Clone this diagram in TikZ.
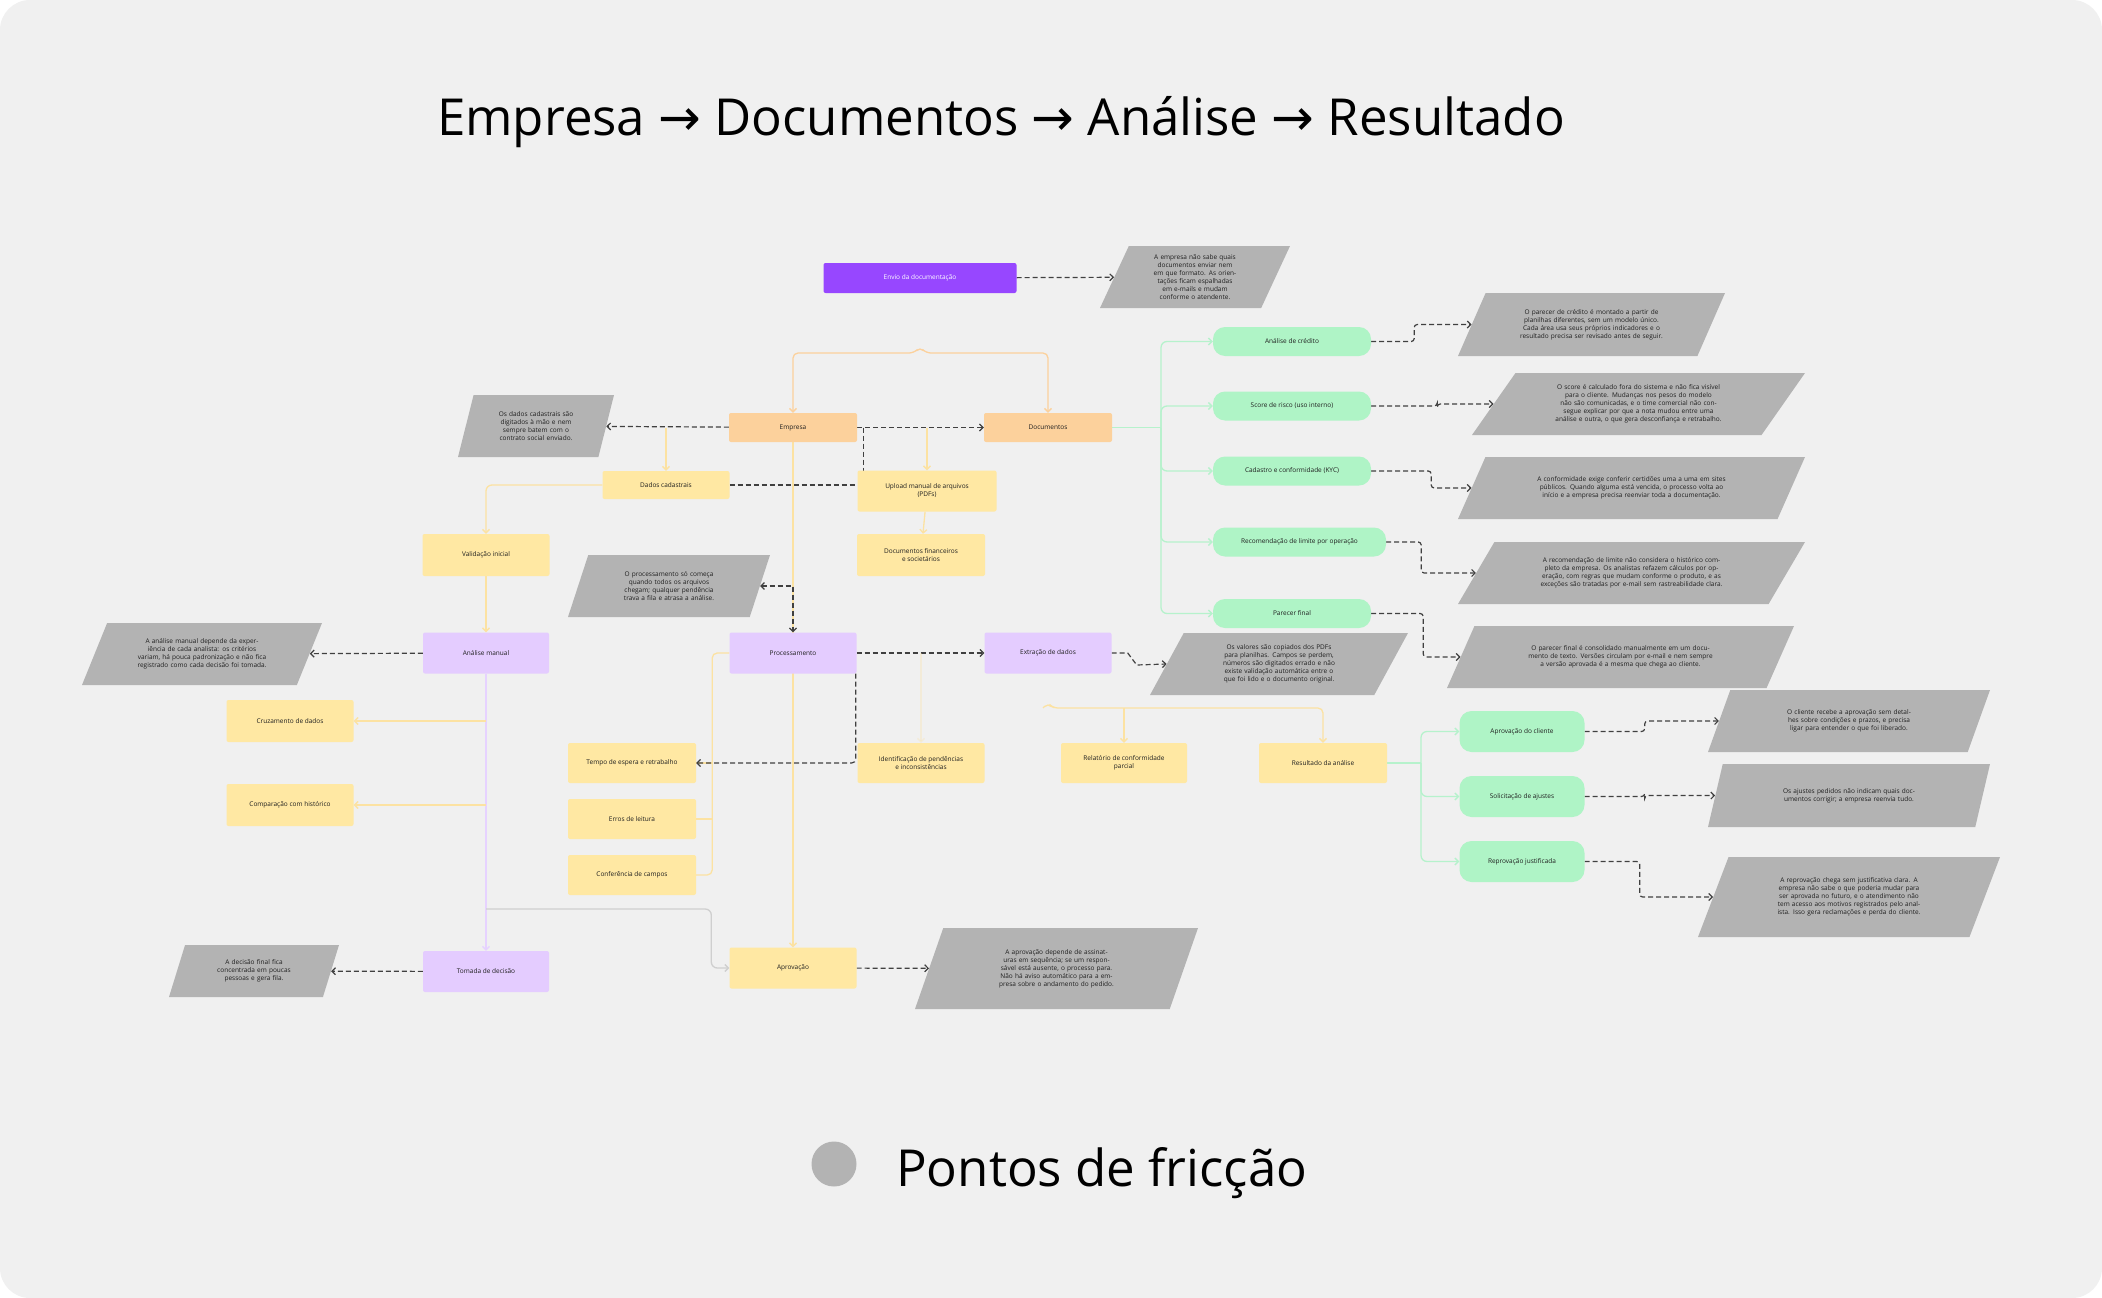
\documentclass[tikz,border=0pt]{standalone}
\usepackage{fontspec}
\setmainfont{Open Sans}
\newfontfamily\arrowfont{DejaVu Sans}
\usetikzlibrary{shapes.geometric,arrows.meta}

\definecolor{paper}{HTML}{F0F0F0}
\definecolor{violet}{HTML}{9747FF}
\definecolor{lilac}{HTML}{E4CCFF}
\definecolor{peach}{HTML}{FCD19C}
\definecolor{sand}{HTML}{FFE8A3}
\definecolor{mint}{HTML}{AFF4C6}
\definecolor{friction}{HTML}{B3B3B3}
\definecolor{ink}{HTML}{1E1E1E}
\definecolor{sandline}{HTML}{FCE2A2}
\definecolor{mintline}{HTML}{B6F2CC}
\definecolor{lilacline}{HTML}{E6D2FF}
\definecolor{greyline}{HTML}{CFCFCF}

\pgfdeclarelayer{back}
\pgfdeclarelayer{wires}
\pgfsetlayers{back,wires,main}

\begin{document}
\begin{tikzpicture}[x=1pt, y=-1pt,
    >={Straight Barb[length=3.5pt,width=7pt]},
    every node/.style={font=\fontsize{6.5}{8}\selectfont, text=ink, align=center, inner sep=1pt},
    card/.style n args={3}{rectangle, rounded corners=2pt, fill=#1, minimum width=#2, minimum height=#3},
    pill/.style={rectangle, rounded corners=12pt, fill=mint, minimum width=#1, minimum height=29},
    fric/.style n args={4}{trapezium, trapezium left angle=#3, trapezium right angle={180-#3},
        trapezium stretches body=true, fill=friction, minimum width=#1, minimum height=#2, text width=#4},
    frline/.style={draw=ink!85, line width=1.2pt, dash pattern=on 5pt off 3pt},
    wire/.style={draw=#1, line width=1.3pt}]

    \useasboundingbox (0,0) rectangle (2102,1298);
    \begin{pgfonlayer}{back}
        \fill[white] (0,0) rectangle (2102,1298);
        \fill[paper, rounded corners=30pt] (0,0) rectangle (2102,1298);
    \end{pgfonlayer}

    % Title
    \node[font=\fontsize{51}{60}\selectfont, text=black, anchor=base west, inner sep=0] (title) at (437,135)
        {Empresa {\arrowfont →} Documentos {\arrowfont →} Análise {\arrowfont →} Resultado};

    % Start
    \node[card={violet}{193}{30}, text=white] (envio) at (920,278) {Envio da documentação};
    \node[fric={190}{62}{58.5}{96}] (envio-f) at (1195,277)
        {A empresa não sabe quais documentos enviar nem em que formato. As orientações ficam espalhadas em e-mails e mudam conforme o atendente.};

    % Company and documents
    \coordinate (brT) at (920,353);
    \node[card={peach}{128}{29}] (empresa) at (793,427.5) {Empresa};
    \node[card={peach}{128}{29}] (docs) at (1048,427.5) {Documentos};
    \node[fric={156}{62}{63.3}{78}] (empresa-f) at (536,426)
        {Os dados cadastrais são digitados à mão e nem sempre batem com o contrato social enviado.};
    \node[card={sand}{127}{28}] (cadastro) at (666,485) {Dados cadastrais};
    \node[card={sand}{139}{41}] (upload) at (927,491) {Upload manual de arquivos\\(PDFs)};
    \node[card={sand}{128}{42}] (financeiros) at (921,555) {Documentos financeiros\\e societários};
    \node[card={sand}{127}{42}] (validacao) at (486,555) {Validação inicial};

    % Manual analysis
    \node[card={lilac}{126}{41}] (manual) at (486,653) {Análise manual};
    \node[fric={240}{62}{52.3}{130}] (manual-f) at (202,654)
        {A análise manual depende da experiência de cada analista: os critérios variam, há pouca padronização e não fica registrado como cada decisão foi tomada.};
    \node[card={sand}{127}{42}] (cruzamento) at (290,721) {Cruzamento de dados};
    \node[card={sand}{127}{42}] (historico) at (290,805) {Comparação com histórico};
    \coordinate (desvio) at (486,909);

    % Processing
    \node[card={lilac}{127}{41}] (proc) at (793,653) {Processamento};
    \node[fric={202}{62}{56.9}{105}] (proc-f) at (669,586)
        {O processamento só começa quando todos os arquivos chegam; qualquer pendência trava a fila e atrasa a análise.};
    \node[card={sand}{128}{40}] (espera) at (632,763) {Tempo de espera e retrabalho};
    \node[card={sand}{128}{40}] (leitura) at (632,819) {Erros de leitura};
    \node[card={sand}{128}{40}] (conferencia) at (632,875) {Conferência de campos};
    \node[card={sand}{127}{40}] (pendencias) at (921,763) {Identificação de pendências\\e inconsistências};

    % Extraction
    \node[card={lilac}{127}{41}] (extracao) at (1048,653) {Extração de dados};
    \node[fric={258}{62}{50.2}{140}] (extracao-f) at (1279,664)
        {Os valores são copiados dos PDFs para planilhas. Campos se perdem, números são digitados errado e não existe validação automática entre o que foi lido e o documento original.};
    \coordinate (brB) at (1048,708);
    \node[card={sand}{126}{40}] (relatorio) at (1124,763) {Relatório de conformidade\\parcial};
    \node[card={sand}{128}{40}] (resultado) at (1323,763) {Resultado da análise};

    % Outputs of the documents
    \coordinate (gHub) at (1161,427.5);
    \node[pill=158] (credito) at (1292,341.5) {Análise de crédito};
    \node[pill=158] (score) at (1292,406) {Score de risco (uso interno)};
    \node[pill=158] (kyc) at (1292,471) {Cadastro e conformidade (KYC)};
    \node[pill=173] (limite) at (1299.5,542) {Recomendação de limite por operação};
    \node[pill=158] (parecer) at (1292,613.5) {Parecer final};
    \node[fric={267}{63}{49.7}{150}] (credito-f) at (1591.5,324.5)
        {O parecer de crédito é montado a partir de planilhas diferentes, sem um modelo único. Cada área usa seus próprios indicadores e o resultado precisa ser revisado antes de seguir.};
    \node[fric={333}{62}{43}{190}] (score-f) at (1638.5,404)
        {O score é calculado fora do sistema e não fica visível para o cliente. Mudanças nos pesos do modelo não são comunicadas, e o time comercial não consegue explicar por que a nota mudou entre uma análise e outra, o que gera desconfiança e retrabalho.};
    \node[fric={347}{62}{41.8}{190}] (kyc-f) at (1631.5,488)
        {A conformidade exige conferir certidões uma a uma em sites públicos. Quando alguma está vencida, o processo volta ao início e a empresa precisa reenviar toda a documentação.};
    \node[fric={347}{62}{41.8}{190}] (limite-f) at (1631.5,573)
        {A recomendação de limite não considera o histórico completo da empresa. Os analistas refazem cálculos por operação, com regras que mudam conforme o produto, e as exceções são tratadas por e-mail sem rastreabilidade clara.};
    \node[fric={347}{62}{41.8}{185}] (parecer-f) at (1620.5,657)
        {O parecer final é consolidado manualmente em um documento de texto. Versões circulam por e-mail e nem sempre a versão aprovada é a mesma que chega ao cliente.};

    % Outputs of the result
    \coordinate (rHub) at (1421,763);
    \node[pill=125, minimum height=41] (aceite) at (1522,731.5) {Aprovação do cliente};
    \node[pill=125, minimum height=41] (ajustes) at (1522,796.5) {Solicitação de ajustes};
    \node[pill=125, minimum height=41] (recusa) at (1522,861.5) {Reprovação justificada};
    \node[fric={282}{62}{47.7}{150}] (aceite-f) at (1849,721)
        {O cliente recebe a aprovação sem detalhes sobre condições e prazos, e precisa ligar para entender o que foi liberado.};
    \node[fric={282}{63}{48.2}{150}] (ajustes-f) at (1849,795.5)
        {Os ajustes pedidos não indicam quais documentos corrigir; a empresa reenvia tudo.};
    \node[fric={302}{80}{53}{160}] (recusa-f) at (1849,897)
        {A reprovação chega sem justificativa clara. A empresa não sabe o que poderia mudar para ser aprovada no futuro, e o atendimento não tem acesso aos motivos registrados pelo analista. Isso gera reclamações e perda do cliente.};

    % Decision
    \node[card={lilac}{126}{41}] (decisao) at (486,971.5) {Tomada de decisão};
    \node[fric={170}{52}{56.8}{80}] (decisao-f) at (254,971)
        {A decisão final fica concentrada em poucas pessoas e gera fila.};
    \node[card={sand}{127}{41}] (aprovacao) at (793,968) {Aprovação};
    \node[fric={283}{81}{55.1}{135}] (aprovacao-f) at (1056.5,968.5)
        {A aprovação depende de assinaturas em sequência; se um responsável está ausente, o processo para. Não há aviso automático para a empresa sobre o andamento do pedido.};

    % Legend
    \node[circle, fill=friction, minimum size=45, inner sep=0] (dot) at (834,1164) {};
    \node[font=\fontsize{51}{60}\selectfont, text=black, anchor=base west, inner sep=0] (legend) at (896,1186) {Pontos de fricção};

    \begin{pgfonlayer}{wires}
        \draw[frline, ->] (envio) -- (envio-f);
        \draw[wire=peach, <->, rounded corners=5pt] (empresa.north) |- ([xshift=-6pt]brT) -- ([yshift=6pt]brT) -- ([xshift=6pt]brT) -| (docs.north);
        \draw[frline, ->] (empresa) -- (empresa-f);
        \draw[frline, ->] (empresa) -- (docs);
        \draw[frline] ([xshift=6pt]empresa.east) -- ([xshift=6pt]empresa.east |- cadastro.east);
        \draw[frline] (cadastro.east) -- (cadastro.east -| upload.west);
        \draw[wire=sandline, ->] (cadastro.north |- empresa.west) -- (cadastro);
        \draw[wire=sandline, ->] (upload.north |- empresa.east) -- (upload);
        \draw[wire=sandline, ->] (upload) -- (financeiros);
        \draw[wire=sandline, ->, rounded corners=6pt] (cadastro.west) -| (validacao.north);
        \draw[wire=sandline, ->] (validacao) -- (manual);

        \draw[frline, ->] (manual) -- (manual-f);
        \draw[wire=lilacline, ->] (manual) -- (decisao);
        \draw[wire=sandline, ->] (manual.south |- cruzamento.east) -- (cruzamento);
        \draw[wire=sandline, ->] (manual.south |- historico.east) -- (historico);
        \draw[wire=greyline, ->, rounded corners=6pt] (desvio) -| ([xshift=-18pt]aprovacao.west) -- (aprovacao);

        \draw[wire=sandline, ->] (empresa) -- (aprovacao);
        \draw[frline, <->] (proc-f.east) -| (proc.north);
        \draw[wire=sandline, rounded corners=5pt] (proc.west) -| ([xshift=16pt]conferencia.east) -- (conferencia.east);
        \draw[wire=sandline] (leitura.east) -- ++(16,0);
        \draw[wire=sandline] (espera.east) -- ++(16,0);
        \draw[frline, ->, rounded corners=4pt] ([xshift=-1pt]proc.south east) |- (espera);
        \draw[frline, ->] (proc) -- (extracao);
        \draw[wire=sandline, opacity=.3, ->] (pendencias.north |- proc.east) -- (pendencias);

        \draw[frline, ->] (extracao.east) -- ++(16,0) -- ++(9,12) -- (extracao-f.west);
        \draw[wire=sandline, ->, rounded corners=5pt] ([xshift=-5pt]brB) -- ([yshift=5pt]brB) -- ([xshift=5pt]brB) -| (resultado.north);
        \draw[wire=sandline, ->] (relatorio.north |- brB) -- (relatorio);

        \draw[wire=mintline] (docs) -- (gHub);
        \foreach \g in {credito,score,kyc,limite,parecer}
            \draw[wire=mintline, ->, rounded corners=6pt] (gHub) |- (\g);
        \foreach \g/\d in {credito/43,score/66,kyc/60,limite/35,parecer/52}
            \draw[frline, ->, rounded corners=3pt] (\g.east) -- ++(\d,0) |- (\g-f.west);

        \draw[wire=mintline] (resultado) -- (rHub);
        \foreach \g in {aceite,ajustes,recusa}
            \draw[wire=mintline, ->, rounded corners=6pt] (rHub) |- (\g);
        \foreach \g/\d in {aceite/60,ajustes/60,recusa/55}
            \draw[frline, ->, rounded corners=3pt] (\g.east) -- ++(\d,0) |- (\g-f.west);

        \draw[frline, ->] (decisao) -- (decisao-f);
        \draw[frline, ->] (aprovacao) -- (aprovacao-f);
    \end{pgfonlayer}
\end{tikzpicture}
\end{document}
